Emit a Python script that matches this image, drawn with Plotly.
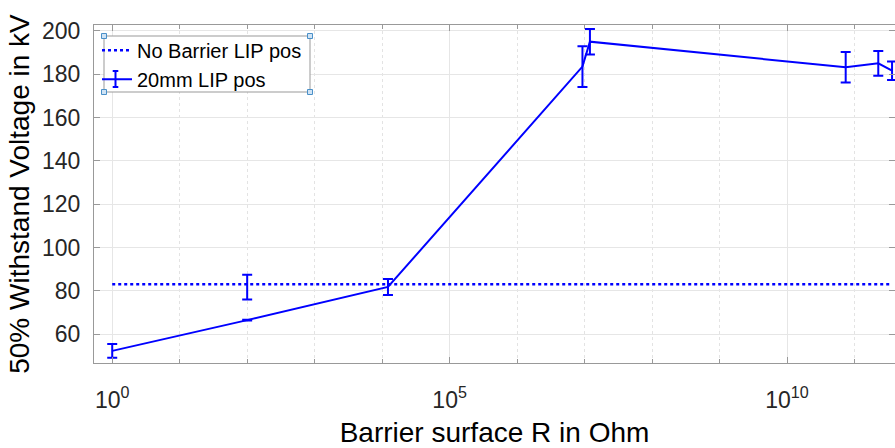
import plotly.graph_objects as go

# data
r_ohm = [1, 100, 1.22e4, 9.3e6, 1.2e7, 7.4e10, 2.25e11, 3.6e11]
v_kv = [52.3, 66.5, 81.8, 183.5, 195.0, 183.2, 185.0, 181.6]
v_err = [3.2, 0.2, 3.7, 9.4, 5.9, 7.0, 5.7, 4.3]

odd_x = [100]
odd_y = [81.7]
odd_err = [5.7]

nb_x = [1, 3.6e11]
nb_y = [83, 83]

blue = "#0000ff"
font = "Liberation Sans, Arial, sans-serif"

fig = go.Figure()
fig.add_trace(go.Scatter(x=nb_x, y=nb_y, mode="lines", name="No Barrier LIP pos",
                         line=dict(color=blue, width=2.5, dash="dot")))
fig.add_trace(go.Scatter(x=r_ohm, y=v_kv, mode="lines", name="20mm LIP pos",
                         line=dict(color=blue, width=2),
                         error_y=dict(type="data", array=v_err, color=blue, thickness=2, width=5)))
fig.add_trace(go.Scatter(x=odd_x, y=odd_y, mode="markers", showlegend=False,
                         marker=dict(size=1, color="rgba(0,0,0,0)"),
                         error_y=dict(type="data", array=odd_err, color=blue, thickness=2, width=5)))

L, T, W, H = 94, 25, 801, 338


def px_x(px):
    return (px - L) / W


def px_y(py):
    return (T + H - py) / H


fig.update_layout(
    width=895, height=448,
    margin=dict(l=L, r=0, t=T, b=448 - T - H),
    paper_bgcolor="white", plot_bgcolor="white",
    font=dict(family=font, color="#262626"),
    showlegend=True,
    legend=dict(x=px_x(97), y=0.983, xanchor="left", yanchor="top",
                bgcolor="rgba(0,0,0,0)", borderwidth=0,
                font=dict(size=20, color="black"), tracegroupgap=0,
                itemwidth=30),
    xaxis=dict(type="log", range=[-0.27, 11.6],
               tickvals=[1, 1e5, 1e10],
               ticktext=["10<sup>0</sup>", "10<sup>5</sup>", "10<sup>10</sup>"],
               tickfont=dict(size=23, color="#262626"),
               ticks="inside", ticklen=6, tickcolor="#999999",
               showline=True, linecolor="#999999", linewidth=1, mirror="ticks",
               showgrid=True, gridcolor="#e6e6e6", gridwidth=1,
               minor=dict(tickvals=[10 ** k for k in range(0, 12)], ticks="inside",
                          ticklen=4, tickcolor="#999999", showgrid=True,
                          gridcolor="#e3e3e3", griddash="dot", gridwidth=1),
               zeroline=False, ticklabelstandoff=16,
               title=dict(text="Barrier surface R in Ohm", font=dict(size=28, color="black"),
                          standoff=10)),
    yaxis=dict(range=[46.7, 202.7], tickvals=[60, 80, 100, 120, 140, 160, 180, 200],
               tickfont=dict(size=23, color="#262626"),
               ticks="inside", ticklen=6, tickcolor="#999999",
               showline=True, linecolor="#999999", linewidth=1, mirror="ticks",
               showgrid=True, gridcolor="#e6e6e6", gridwidth=1, zeroline=False,
               ticklabelstandoff=8,
               title=dict(text="50% Withstand Voltage in kV", font=dict(size=28, color="black"),
                          standoff=4)),
)

# legend box
fig.add_shape(type="rect", xref="paper", yref="paper",
              x0=px_x(104), x1=px_x(310), y0=px_y(92), y1=px_y(36),
              line=dict(color="#999999", width=1), fillcolor="white", layer="above")

# error-bar glyph on legend entry
gx, gy0, gy1, cw = 115.5, 71, 87, 2.8
fig.add_shape(type="line", xref="paper", yref="paper",
              x0=px_x(gx), x1=px_x(gx), y0=px_y(gy0), y1=px_y(gy1),
              line=dict(color=blue, width=2), layer="above")
for gy in (gy0, gy1):
    fig.add_shape(type="line", xref="paper", yref="paper",
                  x0=px_x(gx - cw), x1=px_x(gx + cw), y0=px_y(gy), y1=px_y(gy),
                  line=dict(color=blue, width=2), layer="above")

# legend selection handles
for px, py in [(104, 36), (310, 36), (104, 92), (310, 92)]:
    xp, yp = px_x(px), px_y(py)
    dx, dy = 2.5 / W, 2.5 / H
    fig.add_shape(type="rect", xref="paper", yref="paper",
                  x0=xp - dx, x1=xp + dx, y0=yp - dy, y1=yp + dy,
                  line=dict(color="#4a90c8", width=1), fillcolor="#cfe3f5", layer="above")

fig.write_html("out.html", config={"displayModeBar": False})
